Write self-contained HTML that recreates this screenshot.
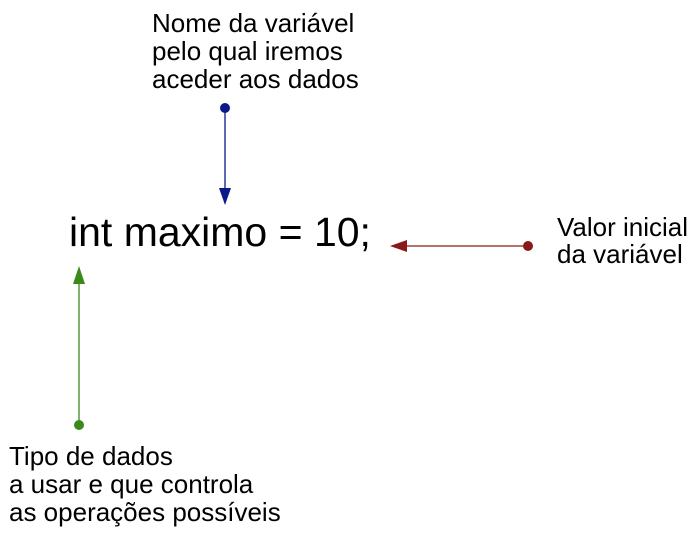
<!DOCTYPE html>
<html><head><meta charset="utf-8"><style>
body{margin:0;width:698px;height:542px;background:#fff;position:relative;overflow:hidden;font-family:"Liberation Sans",Arial,sans-serif;color:#000}
.t{position:absolute;white-space:nowrap}
</style></head><body>
<div class="t" style="left:152px;top:9px;font-size:26px;line-height:28px">Nome da variável<br>pelo qual iremos<br>aceder aos dados</div>
<div class="t" style="left:557px;top:214px;font-size:26px;line-height:27px">Valor inicial<br>da variável</div>
<div class="t" style="left:9px;top:442px;font-size:26px;line-height:28px">Tipo de dados<br>a usar e que controla<br>as operações possíveis</div>
<div class="t" style="left:69px;top:207px;font-size:41px;line-height:50px">int maximo = 10;</div>
<svg width="698" height="542" style="position:absolute;left:0;top:0">
<circle cx="225" cy="108" r="5" fill="#0a1a8a"/>
<line x1="225" y1="108" x2="225" y2="190" stroke="#0a1a8a" stroke-width="1.3"/>
<polygon points="219,188 231,188 225,205" fill="#0a1a8a"/>
<circle cx="528" cy="246" r="5" fill="#8a1a1a"/>
<line x1="528" y1="246" x2="405" y2="246" stroke="#8a1a1a" stroke-width="1.3"/>
<polygon points="407,240 407,252 390,246" fill="#8a1a1a"/>
<circle cx="79" cy="425" r="5" fill="#3a8a1a"/>
<line x1="79" y1="425" x2="79" y2="282" stroke="#3a8a1a" stroke-width="1.3"/>
<polygon points="73,284 85,284 79,266" fill="#3a8a1a"/>
</svg>
</body></html>
